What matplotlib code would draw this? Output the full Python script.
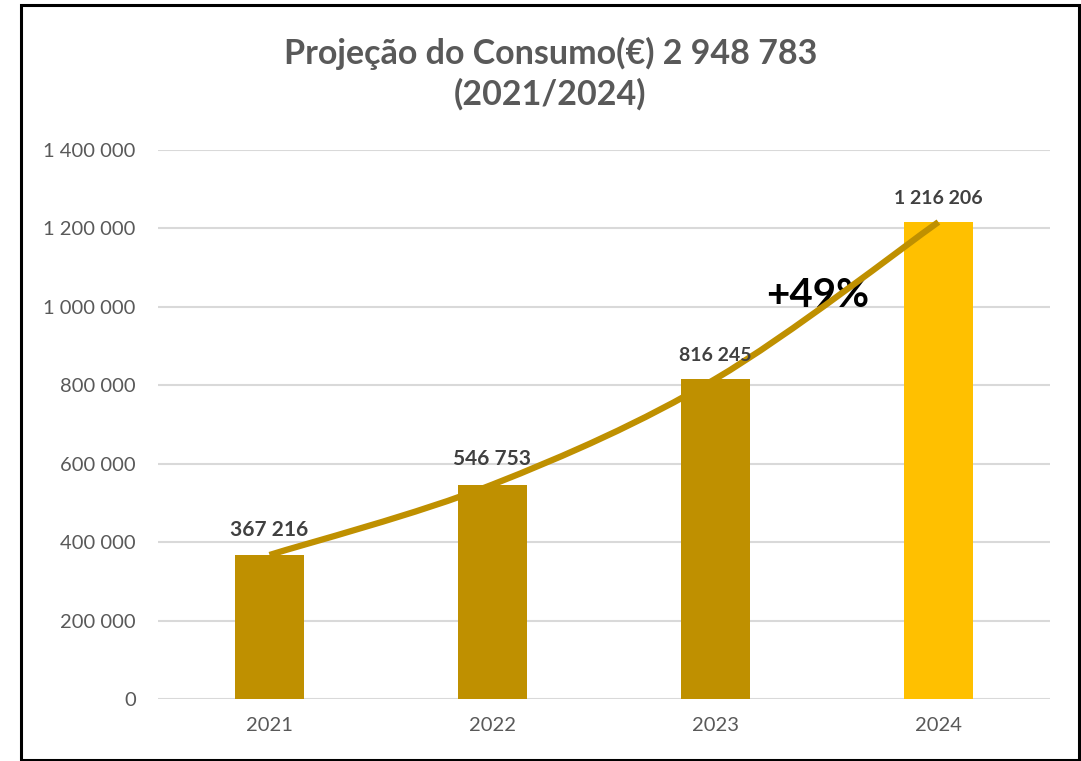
import numpy as np
import matplotlib
matplotlib.use("Agg")
import matplotlib.pyplot as plt
from matplotlib.path import Path
from matplotlib.patches import PathPatch, Rectangle

years = ["2021", "2022", "2023", "2024"]
consumo = [367216, 546753, 816245, 1216206]
bar_colors = ["#BF9000", "#BF9000", "#BF9000", "#FFC000"]
label_sizes = [15, 15, 14, 14]
yticks = [0, 200000, 400000, 600000, 800000, 1000000, 1200000, 1400000]
title = "Projeção do Consumo(€) 2 948 783\n(2021/2024)"
growth_label = "+49%"

plt.rcParams["font.family"] = ["Lato", "DejaVu Sans"]


def fmt(v):
    return "{:,}".format(v).replace(",", " ")


def smooth_path(xs, ys):
    # catmull-rom -> bezier, like excel's smoothed line
    pts = np.column_stack([xs, ys]).astype(float)
    ext = np.vstack([pts[0], pts, pts[-1]])
    verts = [tuple(pts[0])]
    codes = [Path.MOVETO]
    for i in range(len(pts) - 1):
        p0, p1, p2, p3 = ext[i], ext[i + 1], ext[i + 2], ext[i + 3]
        c1 = p1 + (p2 - p0) / 6
        c2 = p2 - (p3 - p1) / 6
        verts += [tuple(c1), tuple(c2), tuple(p2)]
        codes += [Path.CURVE4] * 3
    return Path(verts, codes)


fig = plt.figure(figsize=(10.81, 7.61), dpi=100)
ax = fig.add_axes([0.1462, 0.0815, 0.825, 0.7214])

x = np.arange(len(years))
ax.bar(x, consumo, width=0.31, color=bar_colors, zorder=2)

for xi, v, fs in zip(x, consumo, label_sizes):
    ax.annotate(fmt(v), (xi, v), xytext=(0, 11), textcoords="offset points",
                ha="center", va="bottom", fontsize=fs, fontweight="bold",
                color="#404040", zorder=5)

ax.add_patch(PathPatch(smooth_path(x, consumo), facecolor="none", edgecolor="#BF9000",
                       lw=4.5, zorder=4, capstyle="butt"))

ax.text(2.46, 1030000, growth_label, ha="center", va="center", fontsize=29,
        fontweight="bold", color="black", zorder=3)

ax.set_xlim(-0.5, 3.5)
ax.set_ylim(0, 1400000)
ax.set_yticks(yticks)
ax.set_yticklabels([fmt(t) for t in yticks])
ax.set_xticks(x)
ax.set_xticklabels(years)
ax.tick_params(axis="both", length=0, labelsize=14.5, colors="#595959")
ax.tick_params(axis="y", pad=16)
ax.tick_params(axis="x", pad=13)
ax.grid(axis="y", color="#D9D9D9", lw=1.5, zorder=0)
ax.set_axisbelow(True)
for s in ax.spines.values():
    s.set_visible(False)

fig.text(0.509, 0.903, title, ha="center", va="center", fontsize=24.5,
         fontweight="bold", color="#595959", linespacing=1.3)

fig.patches.append(Rectangle((21 / 1081, 1 / 761), 1058 / 1081, 755 / 761,
                             transform=fig.transFigure, fill=False,
                             edgecolor="black", lw=2.2))

fig.savefig("out.png", dpi=100)
